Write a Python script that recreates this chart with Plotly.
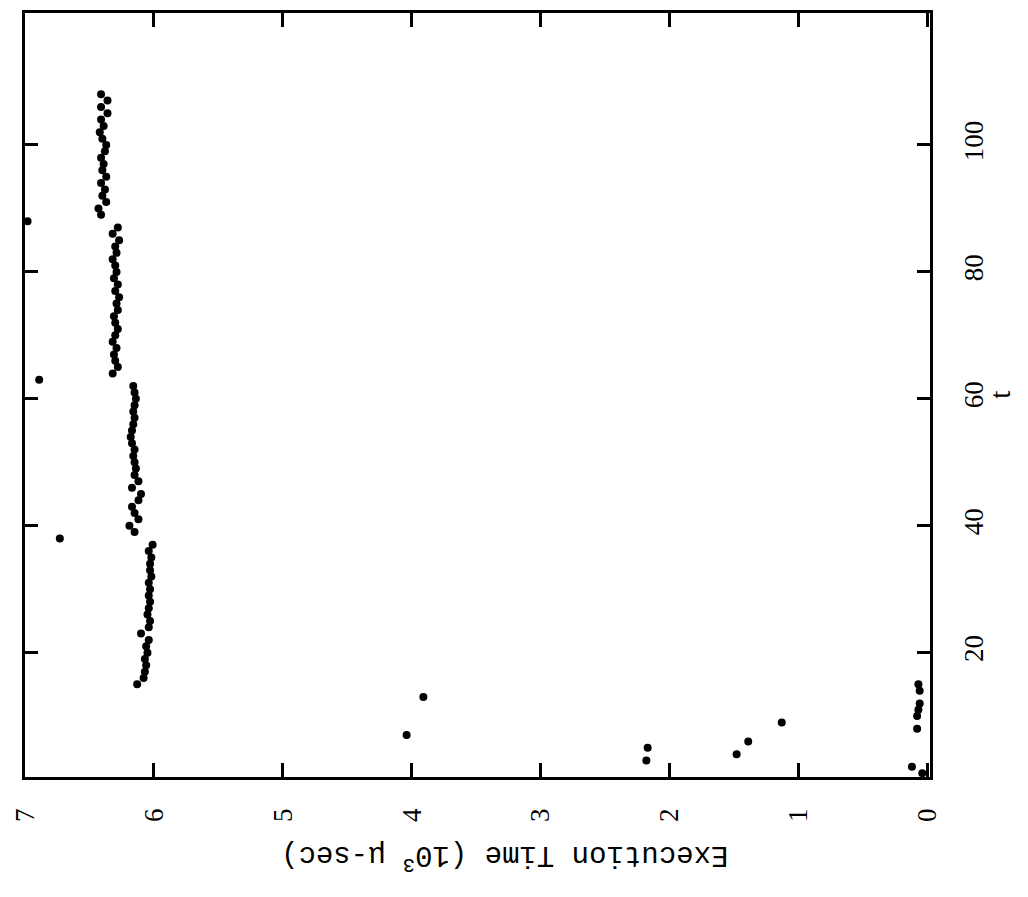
import plotly.graph_objects as go

# Execution time (10^3 micro-sec) versus t
t_values = [
    1, 2, 3, 4, 5, 6, 7, 8, 9, 10, 11, 12, 13, 14, 15,
    15, 16, 17, 18, 19, 20, 21, 22, 23, 24, 25, 26, 27, 28, 29, 30, 31, 32, 33, 34, 35, 36, 37,
    38,
    39, 40, 41, 42, 43, 44, 45, 46, 47, 48, 49, 50, 51, 52, 53, 54, 55, 56, 57, 58, 59, 60, 61, 62,
    63,
    64, 65, 66, 67, 68, 69, 70, 71, 72, 73, 74, 75, 76, 77, 78, 79, 80, 81, 82, 83, 84, 85, 86, 87,
    88,
    89, 90, 91, 92, 93, 94, 95, 96, 97, 98, 99, 100, 101, 102, 103, 104, 105, 106, 107, 108,
]
exec_time = [
    0.04, 0.12, 2.18, 1.48, 2.17, 1.39, 4.04, 0.08, 1.13, 0.08, 0.07, 0.06, 3.91, 0.06, 0.07,
    6.13, 6.08, 6.07, 6.06, 6.07, 6.05, 6.06, 6.04, 6.10, 6.04, 6.03, 6.05, 6.04, 6.03, 6.04,
    6.03, 6.04, 6.02, 6.03, 6.03, 6.02, 6.04, 6.01,
    6.73,
    6.15, 6.19, 6.12, 6.15, 6.17, 6.12, 6.10, 6.17, 6.12, 6.15, 6.14, 6.15, 6.16, 6.15, 6.17,
    6.18, 6.17, 6.16, 6.15, 6.16, 6.15, 6.14, 6.15, 6.16,
    6.89,
    6.32, 6.28, 6.30, 6.31, 6.29, 6.32, 6.30, 6.28, 6.30, 6.31, 6.28, 6.29, 6.27, 6.30, 6.28,
    6.31, 6.29, 6.30, 6.32, 6.29, 6.30, 6.27, 6.32, 6.28,
    6.98,
    6.41, 6.43, 6.37, 6.40, 6.38, 6.41, 6.37, 6.40, 6.39, 6.41, 6.38, 6.37, 6.40, 6.42, 6.39,
    6.41, 6.36, 6.41, 6.36, 6.41,
]

exec_ticks = [0, 1, 2, 3, 4, 5, 6, 7]
t_ticks = [20, 40, 60, 80, 100]

fig = go.Figure()
fig.add_trace(go.Scatter(
    x=exec_time, y=t_values, mode="markers",
    marker=dict(color="black", size=8, line=dict(width=0)),
    showlegend=False, hoverinfo="skip",
))

tick_font = dict(family="Liberation Serif", size=27, color="black")

fig.update_layout(
    width=1028, height=897,
    margin=dict(l=22, r=98, t=10, b=120),
    paper_bgcolor="white", plot_bgcolor="white",
    xaxis=dict(
        range=[7.0, -0.02], tickvals=exec_ticks, ticktext=[str(v) for v in exec_ticks],
        ticks="inside", ticklen=14, tickwidth=2.5, tickcolor="black",
        showline=True, linewidth=2.5, linecolor="black", mirror="ticks",
        showgrid=False, zeroline=False, tickangle=-90, tickfont=tick_font,
        ticklabelstandoff=18,
    ),
    yaxis=dict(
        range=[0.4, 120.8], tickvals=t_ticks, ticktext=[str(v) for v in t_ticks],
        side="right", ticks="inside", ticklen=13, tickwidth=2.5, tickcolor="black",
        showline=True, linewidth=2.5, linecolor="black", mirror="ticks",
        showgrid=False, zeroline=False, tickangle=-90, tickfont=tick_font,
        ticklabelstandoff=18,
    ),
    annotations=[
        dict(text="Execution Time (10<sup>3</sup> μ-sec)", xref="paper", yref="paper",
             x=0.53, y=-0.105, xanchor="center", yanchor="middle", textangle=180,
             showarrow=False,
             font=dict(family="Liberation Mono", size=29, color="black")),
        dict(text="t", xref="paper", yref="paper", x=1.077, y=0.5,
             xanchor="center", yanchor="middle", textangle=-90,
             showarrow=False, font=dict(family="Liberation Serif", size=29, color="black")),
    ],
)

fig.write_html("out.html")
